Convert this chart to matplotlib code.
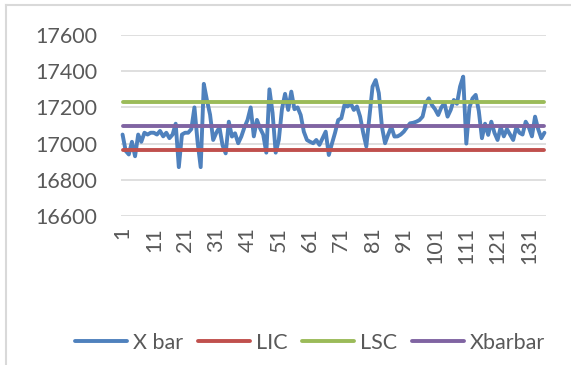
import matplotlib.pyplot as plt
from matplotlib.lines import Line2D
import numpy as np

# Sample means (X bar) for each subgroup
xbar = [17050, 16960, 16940, 17010, 16930, 17050, 17010, 17060, 17050, 17060,
        17060, 17050, 17070, 17040, 17060, 17030, 17050, 17110, 16870, 17050,
        17060, 17060, 17080, 17200, 17010, 16870, 17330, 17240, 17160, 17020,
        17060, 17090, 16990, 16946, 17121, 17039, 17057, 17002, 17039, 17090,
        17131, 17200, 17040, 17131, 17085, 17050, 16950, 17300, 17170, 16950,
        17020, 17190, 17275, 17186, 17287, 17190, 17200, 17158, 17066, 17020,
        17010, 17002, 17020, 16993, 17030, 17066, 16937, 17000, 17060, 17130,
        17140, 17213, 17205, 17223, 17186, 17205, 17150, 17060, 16984, 17150,
        17315, 17351, 17279, 17093, 17002, 17050, 17093, 17039, 17040, 17050,
        17066, 17090, 17112, 17115, 17121, 17130, 17149, 17223, 17250, 17213,
        17190, 17158, 17200, 17223, 17149, 17186, 17241, 17220, 17315, 17370,
        17000, 17200, 17250, 17269, 17180, 17030, 17110, 17048, 17121, 17060,
        17020, 17090, 17040, 17080, 17050, 17020, 17090, 17060, 17050, 17121,
        17090, 17040, 17149, 17080, 17030, 17060]

# Control limits and grand mean
lic = 16965
lsc = 17228
xbarbar = 17097

n = len(xbar)
samples = np.arange(1, n + 1)
tick_pos = np.arange(1, n + 1, 10)
tick_labels = [str(t) for t in tick_pos]
yticks = np.arange(16600, 17601, 200)

plt.rcParams['font.family'] = ['Lato', 'DejaVu Sans']

fig = plt.figure(figsize=(5.71, 3.65), dpi=100)
ax = fig.add_axes([121 / 571, 1 - 216 / 365, 425 / 571, 181 / 365])

lw = 2.8
ax.plot(samples, xbar, color='#4F81BD', lw=lw, solid_joinstyle='round',
        solid_capstyle='round', label='X bar', clip_on=False)
ax.plot(samples, [lic] * n, color='#C0504D', lw=lw, solid_capstyle='round',
        label='LIC', clip_on=False)
ax.plot(samples, [lsc] * n, color='#9BBB59', lw=lw, solid_capstyle='round',
        label='LSC', clip_on=False)
ax.plot(samples, [xbarbar] * n, color='#8064A2', lw=lw, solid_capstyle='round',
        label='Xbarbar', clip_on=False)

ax.set_xlim(0.5, n + 0.5)
ax.set_ylim(16600, 17600)
ax.set_yticks(yticks)
ax.set_yticklabels([str(v) for v in yticks])
ax.set_xticks(tick_pos)
ax.set_xticklabels(tick_labels, rotation=90)
ax.tick_params(axis='y', length=0, pad=17, labelsize=15.5, labelcolor='#595959')
ax.tick_params(axis='x', length=0, pad=8, labelsize=15.5, labelcolor='#595959')
ax.grid(axis='y', color='#D9D9D9', lw=1.2)
ax.set_axisbelow(True)
for s in ax.spines.values():
    s.set_visible(False)

fig.legend(loc='center', bbox_to_anchor=(310 / 571, 1 - 343 / 365), ncol=4,
           frameon=False, fontsize=15.5, labelcolor='#595959',
           handlelength=2.4, handletextpad=0.28, columnspacing=0.7)

# chart area border (top and left edges)
fig.add_artist(Line2D([6 / 571, 1], [1 - 5 / 365, 1 - 5 / 365],
                      color='#D9D9D9', lw=1.5))
fig.add_artist(Line2D([6 / 571, 6 / 571], [0, 1 - 5 / 365],
                      color='#D9D9D9', lw=1.5))

fig.savefig('out.png', dpi=100)
